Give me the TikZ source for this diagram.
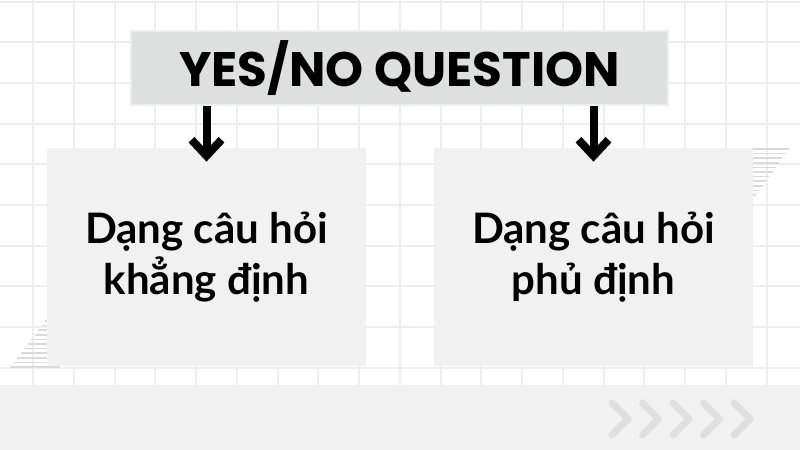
\documentclass[tikz,border=0pt]{standalone}
\usepackage{fontspec}
\setmainfont{Lato}
\newfontfamily\titlefont{Poppins}
\usetikzlibrary{arrows.meta, positioning}
\definecolor{gridgray}{RGB}{237,238,238}
\definecolor{titlegray}{RGB}{222,224,223}
\definecolor{boxgray}{RGB}{240,241,240}
\definecolor{hatchgray}{RGB}{218,218,218}
\definecolor{chevrongray}{RGB}{222,223,222}
\tikzset{
    heading/.style={rectangle, draw=gridgray, line width=1pt, fill=titlegray, minimum width=268.5pt, minimum height=37pt, inner sep=0pt, font=\titlefont\bfseries\fontsize{24.2}{29}\selectfont},
    qbox/.style={rectangle, fill=boxgray, minimum width=159.5pt, minimum height=109pt, inner sep=0pt, align=center, font=\bfseries\fontsize{21}{25.5}\selectfont},
    downarrow/.style={-{Straight Barb[length=8pt, width=15pt]}, line width=4pt, black},
    gridline/.style={gridgray, line width=1pt},
    hatch/.style={hatchgray, line width=0.75pt},
    chevron/.style={chevrongray, line width=3.5pt, line cap=round, line join=round},
}

\begin{document}
\begin{tikzpicture}[x=0.5pt, y=-0.5pt]
    \useasboundingbox (0,0) rectangle (800,450);
    \fill[white] (0,0) rectangle (800,450);
    \foreach \gx in {0,...,18}
        \draw[gridline] ({33+40.75*\gx},0) -- ({33+40.75*\gx},450);
    \foreach \gy in {0,...,10}
        \draw[gridline] (0,{1.5+40.7*\gy}) -- (800,{1.5+40.7*\gy});
    \foreach \i in {0,...,10}
        \draw[hatch] (740,{149+4.6*\i}) -- ({789-3.3*\i},{149+4.6*\i});
    \foreach \i in {0,...,10}
        \draw[hatch] ({45-3.5*\i},{321+4.6*\i}) -- (60,{321+4.6*\i});
    \fill[boxgray] (0,385) rectangle (800,450);
    \foreach \i in {0,...,4}
        \draw[chevron] ({612+30.5*\i},403) -- ({628+30.5*\i},419) -- ({612+30.5*\i},435);

    \node[heading] (title) at (399.5,68) {YES/NO QUESTION};
    \node[qbox] (yesbox) at (206.5,257) {Dạng câu hỏi\\khẳng định};
    \node[qbox] (nobox) at (593.5,257) {Dạng câu hỏi\\phủ định};
    \draw[downarrow] (title.south -| yesbox.north) -- ([yshift=-7pt]yesbox.north);
    \draw[downarrow] (title.south -| nobox.north) -- ([yshift=-7pt]nobox.north);
\end{tikzpicture}
\end{document}
